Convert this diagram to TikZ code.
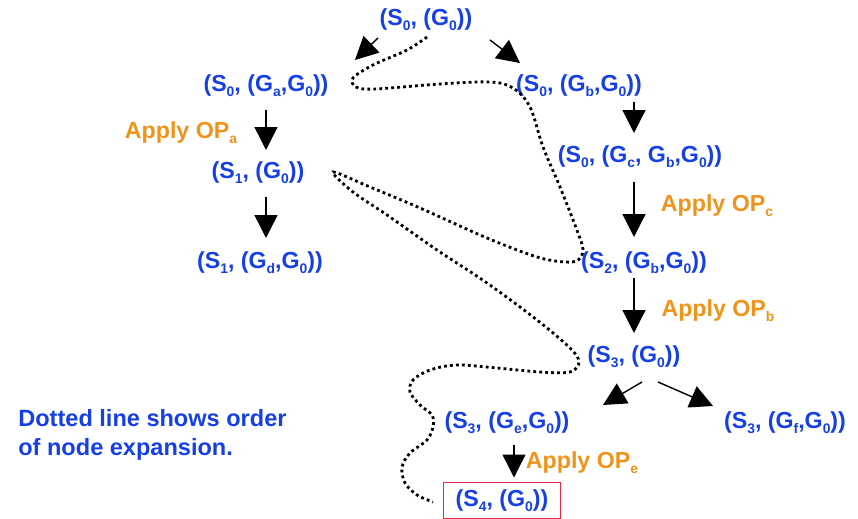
\documentclass[tikz,border=0pt]{standalone}
\usepackage{fontspec}
\setmainfont{Liberation Sans}
\usepackage{xcolor}
\usetikzlibrary{arrows.meta, calc}
\definecolor{stateblue}{RGB}{22,64,230}
\definecolor{oporange}{RGB}{238,148,26}
\definecolor{goalred}{RGB}{232,40,72}
\newcommand{\subx}[1]{\raisebox{-0.22em}{\fontsize{7.9}{8}\selectfont #1}}

\begin{document}
\begin{tikzpicture}[x=0.02cm, y=-0.02cm,
    every node/.style={font=\fontsize{13.2}{16.5}\selectfont\bfseries, inner sep=0pt},
    state/.style={text=stateblue},
    apply/.style={text=oporange},
    expand/.style={-{Triangle[length=13pt,width=13pt]}, line width=0.8pt},
    order/.style={line width=1.6pt, dash pattern=on 1.6pt off 1.8pt}]
    \useasboundingbox (0,0) rectangle (858,519);

    \node[state] (n0) at (426,20) {(S\subx{0}, (G\subx{0}))};
    \node[state] (n1) at (266,86) {(S\subx{0}, (G\subx{a},G\subx{0}))};
    \node[state] (n2) at (579,86) {(S\subx{0}, (G\subx{b},G\subx{0}))};
    \node[state] (n3) at (640,157) {(S\subx{0}, (G\subx{c}, G\subx{b},G\subx{0}))};
    \node[state] (n4) at (258,173) {(S\subx{1}, (G\subx{0}))};
    \node[state] (n5) at (260,263) {(S\subx{1}, (G\subx{d},G\subx{0}))};
    \node[state] (n6) at (644,263) {(S\subx{2}, (G\subx{b},G\subx{0}))};
    \node[state] (n7) at (634,357) {(S\subx{3}, (G\subx{0}))};
    \node[state] (n8) at (507,423) {(S\subx{3}, (G\subx{e},G\subx{0}))};
    \node[state] (n9) at (785,423) {(S\subx{3}, (G\subx{f},G\subx{0}))};
    \node[state, draw=goalred, line width=0.7pt, minimum width=66.5pt, minimum height=20.5pt]
        (n10) at (502,500.5) {(S\subx{4}, (G\subx{0}))};

    \node[apply] (opa) at (181,133) {Apply OP\subx{a}};
    \node[apply] (opc) at (717,206) {Apply OP\subx{c}};
    \node[apply] (opb) at (718,311) {Apply OP\subx{b}};
    \node[apply] (ope) at (582,463) {Apply OP\subx{e}};

    \node[state, anchor=west, align=left, font=\fontsize{13.4}{16.5}\selectfont\bfseries]
        (note) at (18,435) {Dotted line shows order\\of node expansion.};

    \draw[expand] ($(n0)+(-48,18)$) -- ($(n1)+(89,-26)$);
    \draw[expand] ($(n0)+(64,20)$) -- ($(n2)+(-59,-23)$);
    \draw[expand] ($(n1)+(0,24)$) -- ($(n4)+(8,-23)$);
    \draw[expand] ($(n4)+(8,24)$) -- ($(n5)+(6,-25)$);
    \draw[expand] ($(n2)+(55,16)$) -- ($(n3)+(-6,-24)$);
    \draw[expand] ($(n3)+(-6,25)$) -- ($(n6)+(-10,-26)$);
    \draw[expand] ($(n6)+(-10,15)$) -- ($(n7)+(0,-24)$);
    \draw[expand] ($(n7)+(8,25)$) -- ($(n8)+(96,-18)$);
    \draw[expand] ($(n7)+(24,25)$) -- ($(n9)+(-72,-17)$);
    \draw[expand] ($(n8)+(7,22)$) -- ($(n10)+(12,-23)$);

    % order of node expansion
    \draw[order] plot[smooth, tension=0.55] coordinates {
        (427,37) (407,50) (373,65) (353,78) (356,87) (375,89) (440,84)
        (490,82) (513,88) (530,107) (543,147) (560,187) (578,233) (583,250)
        (578,260) (565,262) (537,257) (487,238) (420,208) (370,187) (333,172)
        (353,192) (387,215) (437,250) (487,283) (537,320) (570,348) (579,362)
        (570,372) (540,372) (497,368) (457,365) (430,370) (413,380) (410,392)
        (420,405) (432,415) (433,427) (427,440) (410,453) (402,467) (405,483)
        (417,495) (433,502)};
\end{tikzpicture}
\end{document}
